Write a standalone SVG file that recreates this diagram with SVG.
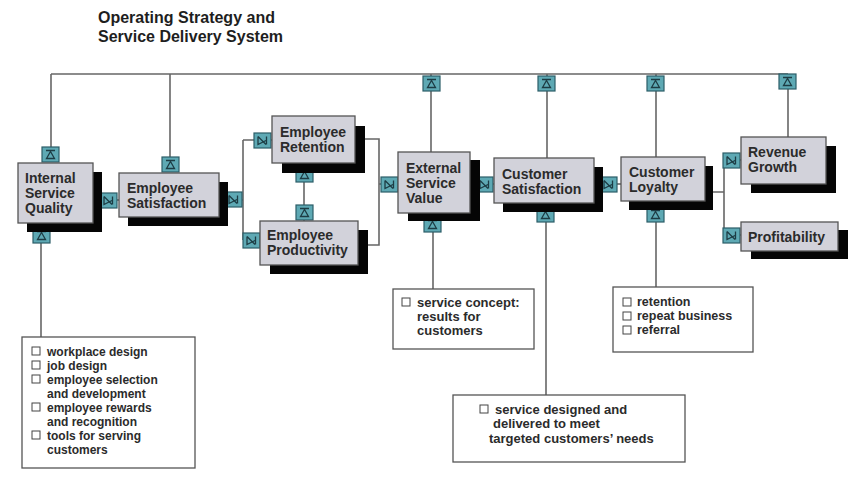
<svg xmlns="http://www.w3.org/2000/svg" width="856" height="477" viewBox="0 0 856 477">
  <defs>
    <style>
      text { font-family: "Liberation Sans", Arial, sans-serif; font-weight: bold; fill: #2b2b2b; }
      .title { font-size: 16px; fill: #1e1e1e; }
      .lbl { font-size: 14px; }
      .li { font-size: 12px; }
      .lm { font-size: 13px; }
      .ls { font-size: 12.5px; }
      .box { fill: #d2d2da; stroke: #555; stroke-width: 1.3; }
      .shadow { fill: #050505; }
      .wire { fill: none; stroke: #666; stroke-width: 1.6; }
      .note { fill: #fff; stroke: #555; stroke-width: 1.3; }
      .chk { fill: #fff; stroke: #444; stroke-width: 1; }
      .ic { fill: #5ea9b4; stroke: #2c5e68; stroke-width: 1.2; }
      .glyph { fill: none; stroke: #1d3c44; stroke-width: 1.3; }
    </style>
    <!-- link handles: vertical (flow downwards) and horizontal (flow rightwards) -->
    <g id="hv">
      <rect class="ic" x="0" y="0" width="17" height="15"/>
      <path class="glyph" d="M4 3.5 H13 M4.5 11.5 H12.5 L8.5 4.5 Z"/>
    </g>
    <g id="hh">
      <rect class="ic" x="0" y="0" width="17" height="15"/>
      <path class="glyph" d="M4 3.5 V11.5 L12 7.5 M4 3.5 L12 11.5 M12.5 3.5 V11.5"/>
    </g>
  </defs>

  <rect width="856" height="477" fill="#fff"/>

  <g id="title">
    <text class="title" x="98" y="23">Operating Strategy and</text>
    <text class="title" x="98" y="42">Service Delivery System</text>
  </g>

  <!-- connectors -->
  <g id="connectors">
    <path class="wire" d="M51 74 H788"/>
    <path class="wire" d="M51 74 V147"/>
    <path class="wire" d="M170 74 V157"/>
    <path class="wire" d="M431 74 V152"/>
    <path class="wire" d="M547 74 V158"/>
    <path class="wire" d="M656 74 V157"/>
    <path class="wire" d="M788 74 V137"/>
    <path class="wire" d="M93 200 H119"/>
    <path class="wire" d="M219 200 H243 M243 140 V240 M243 140 H272 M243 240 H260"/>
    <path class="wire" d="M304 163 V221"/>
    <path class="wire" d="M355 139 H379 V245 H358 M379 184 H398"/>
    <path class="wire" d="M470 184 H494"/>
    <path class="wire" d="M594 184 H621"/>
    <path class="wire" d="M705 192 H724 M724 160 V235 M724 160 H741 M724 235 H741"/>
    <path class="wire" d="M41 232 V337"/>
    <path class="wire" d="M433 213 V289"/>
    <path class="wire" d="M546 203 V395"/>
    <path class="wire" d="M656 201 V287"/>
    <!-- handles -->
    <use href="#hv" x="42" y="147"/>
    <use href="#hv" x="162" y="157"/>
    <use href="#hv" x="423" y="76"/>
    <use href="#hv" x="538" y="76"/>
    <use href="#hv" x="647" y="76"/>
    <use href="#hv" x="779" y="74"/>
    <use href="#hv" x="33" y="228"/>
    <use href="#hv" x="296" y="167"/>
    <use href="#hv" x="296" y="205"/>
    <use href="#hv" x="424" y="217"/>
    <use href="#hv" x="537" y="207"/>
    <use href="#hv" x="647" y="207"/>
    <use href="#hh" x="100" y="193"/>
    <use href="#hh" x="225" y="192"/>
    <use href="#hh" x="254" y="133"/>
    <use href="#hh" x="243" y="233"/>
    <use href="#hh" x="381" y="177"/>
    <use href="#hh" x="476" y="177"/>
    <use href="#hh" x="600" y="177"/>
    <use href="#hh" x="723" y="153"/>
    <use href="#hh" x="723" y="228"/>
  </g>

  <g id="internal-service-quality">
    <rect class="shadow" x="27" y="172" width="75" height="60"/>
    <rect class="box" x="18" y="163" width="75" height="60"/>
    <text class="lbl" x="25" y="183">Internal</text>
    <text class="lbl" x="25" y="198">Service</text>
    <text class="lbl" x="25" y="213">Quality</text>
  </g>

  <g id="employee-satisfaction">
    <rect class="shadow" x="128" y="182" width="100" height="44"/>
    <rect class="box" x="119" y="173" width="100" height="44"/>
    <text class="lbl" x="127" y="193">Employee</text>
    <text class="lbl" x="127" y="208">Satisfaction</text>
  </g>

  <g id="employee-retention">
    <rect class="shadow" x="282" y="126" width="83" height="47"/>
    <rect class="box" x="272" y="116" width="83" height="47"/>
    <text class="lbl" x="280" y="137">Employee</text>
    <text class="lbl" x="280" y="152">Retention</text>
  </g>

  <g id="employee-productivity">
    <rect class="shadow" x="270" y="230" width="98" height="44"/>
    <rect class="box" x="260" y="221" width="98" height="44"/>
    <text class="lbl" x="267" y="240">Employee</text>
    <text class="lbl" x="267" y="255">Productivity</text>
  </g>

  <g id="external-service-value">
    <rect class="shadow" x="408" y="160" width="72" height="61"/>
    <rect class="box" x="398" y="152" width="72" height="61"/>
    <text class="lbl" x="406" y="173">External</text>
    <text class="lbl" x="406" y="188">Service</text>
    <text class="lbl" x="406" y="203">Value</text>
  </g>

  <g id="customer-satisfaction">
    <rect class="shadow" x="503" y="167" width="100" height="45"/>
    <rect class="box" x="494" y="158" width="100" height="45"/>
    <text class="lbl" x="502" y="179">Customer</text>
    <text class="lbl" x="502" y="194">Satisfaction</text>
  </g>

  <g id="customer-loyalty">
    <rect class="shadow" x="629" y="166" width="84" height="44"/>
    <rect class="box" x="621" y="157" width="84" height="44"/>
    <text class="lbl" x="629" y="177">Customer</text>
    <text class="lbl" x="629" y="192">Loyalty</text>
  </g>

  <g id="revenue-growth">
    <rect class="shadow" x="751" y="146" width="85" height="47"/>
    <rect class="box" x="741" y="137" width="85" height="47"/>
    <text class="lbl" x="748" y="157">Revenue</text>
    <text class="lbl" x="748" y="172">Growth</text>
  </g>

  <g id="profitability">
    <rect class="shadow" x="751" y="230" width="97" height="29"/>
    <rect class="box" x="741" y="222" width="97" height="29"/>
    <text class="lbl" x="748" y="242">Profitability</text>
  </g>

  <g id="note-internal">
    <rect class="note" x="22" y="337" width="173" height="131"/>
    <rect class="chk" x="32" y="347" width="8" height="8"/>
    <rect class="chk" x="32" y="361" width="8" height="8"/>
    <rect class="chk" x="32" y="375" width="8" height="8"/>
    <rect class="chk" x="32" y="403" width="8" height="8"/>
    <rect class="chk" x="32" y="431" width="8" height="8"/>
    <text class="li" x="47" y="356">workplace design</text>
    <text class="li" x="47" y="370">job design</text>
    <text class="li" x="47" y="384">employee selection</text>
    <text class="li" x="47" y="398">and development</text>
    <text class="li" x="47" y="412">employee rewards</text>
    <text class="li" x="47" y="426">and recognition</text>
    <text class="li" x="47" y="440">tools for serving</text>
    <text class="li" x="47" y="454">customers</text>
  </g>

  <g id="note-value">
    <rect class="note" x="393" y="289" width="141" height="60"/>
    <rect class="chk" x="402" y="298" width="8" height="8"/>
    <text class="lm" x="417" y="307">service concept:</text>
    <text class="lm" x="417" y="321">results for</text>
    <text class="lm" x="417" y="335">customers</text>
  </g>

  <g id="note-satisfaction">
    <rect class="note" x="453" y="395" width="232" height="67"/>
    <rect class="chk" x="480" y="405" width="8" height="8"/>
    <text class="lm" x="495" y="414">service designed and</text>
    <text class="lm" x="493" y="428">delivered to meet</text>
    <text class="lm" x="489" y="443">targeted customers’ needs</text>
  </g>

  <g id="note-loyalty">
    <rect class="note" x="613" y="287" width="140" height="65"/>
    <rect class="chk" x="623" y="298" width="8" height="8"/>
    <rect class="chk" x="623" y="312" width="8" height="8"/>
    <rect class="chk" x="623" y="326" width="8" height="8"/>
    <text class="ls" x="637" y="306">retention</text>
    <text class="ls" x="637" y="320">repeat business</text>
    <text class="ls" x="637" y="334">referral</text>
  </g>
</svg>
